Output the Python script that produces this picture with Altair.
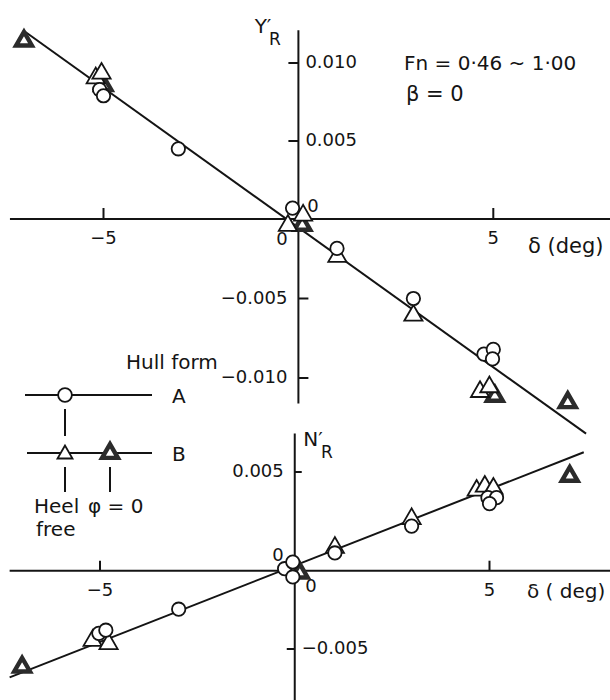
import altair as alt
import pandas as pd

# ---------------- data: rudder side force Y'_R (upper panel) ----------------
yr_circ_delta = [-5.1, -5.0, -3.08, -0.15, 0.99, 2.95, 4.76, 5.0, 4.98]
yr_circ_val = [0.0083, 0.0079, 0.0045, 0.0007, -0.00185, -0.0050, -0.0085, -0.0082, -0.0088]

yr_tri_delta = [-5.2, -5.05, -0.27, 0.12, 1.0, 2.95, 4.66, 4.9]
yr_tri_val = [0.0092, 0.0095, -0.00025, 0.0004, -0.0022, -0.0059, -0.0107, -0.0104]

yr_bold_delta = [-7.04, -5.0, 0.1, 5.04, 6.91]
yr_bold_val = [0.01156, 0.0087, -0.00025, -0.0110, -0.0114]

yr_fit_delta = [-7.065, 7.38]
yr_fit_val = [0.0121, -0.0135]

# ---------------- data: rudder yaw moment N'_R (lower panel) ----------------
nr_circ_delta = [-5.03, -4.85, -2.98, -0.26, -0.05, -0.05, 1.03, 3.0, 4.96, 5.18, 5.0]
nr_circ_val = [-0.0040, -0.0038, -0.00246, 0.0001, 0.00044, -0.0004, 0.0009, 0.00226, 0.0037, 0.0037, 0.0034]

nr_tri_delta = [-5.19, -4.78, 1.03, 3.0, 4.67, 4.88, 5.1]
nr_tri_val = [-0.0043, -0.0045, 0.0013, 0.00276, 0.0042, 0.0044, 0.0043]

nr_bold_delta = [-7.0, 0.13, 7.06]
nr_bold_val = [-0.0060, 0.0, 0.0049]

nr_fit_delta = [-7.32, 7.42]
nr_fit_val = [-0.00681, 0.0060]

# axis ticks and labels
x_ticks = [-5, 5]
x_tick_labels = ["−5", "5"]
yr_ticks = [0.010, 0.005, -0.005, -0.010]
yr_tick_labels = ["0.010", "0.005", "−0.005", "−0.010"]
nr_ticks = [0.005, -0.005]
nr_tick_labels = ["0.005", "−0.005"]

INK = "#141414"
BOLD = "#2b2b2b"
FONT = "DejaVu Sans"

# scales (the lower panel's vertical axis is drawn unevenly above/below zero)
xs_up = alt.Scale(domain=[-5, 5], range=[103.5, 493.3], nice=False, zero=False)
ys_up = alt.Scale(domain=[-0.010, 0, 0.010], range=[378, 219, 63], nice=False, zero=False)
xs_lo = alt.Scale(domain=[-5, 5], range=[100, 489.5], nice=False, zero=False)
ys_lo = alt.Scale(domain=[-0.005, 0, 0.005], range=[649, 570.7, 472], nice=False, zero=False)


def df(d, v, **extra):
    out = pd.DataFrame({"d": d, "v": v})
    for k, val in extra.items():
        out[k] = val
    return out


def X(s):
    return alt.X("d:Q", scale=s, axis=None)


def Y(s):
    return alt.Y("v:Q", scale=s, axis=None)


def panel(xs, ys, x_ext, y_ext, fit_d, fit_v, circ, tri, bold,
          x_tick_up, y_ticks, y_labels, y_tick_dir, y_label_side):
    base_axes = [
        # horizontal axis line
        alt.Chart(pd.DataFrame({"d": [x_ext[0]], "d2": [x_ext[1]], "v": [0.0]}))
        .mark_rule(color=INK, strokeWidth=2)
        .encode(x=X(xs), x2="d2:Q", y=Y(ys)),
        # vertical axis line
        alt.Chart(pd.DataFrame({"d": [0.0], "v": [y_ext[0]], "v2": [y_ext[1]]}))
        .mark_rule(color=INK, strokeWidth=2)
        .encode(x=X(xs), y=Y(ys), y2="v2:Q"),
        # ticks on the delta axis
        alt.Chart(df(x_ticks, [0.0] * len(x_ticks)))
        .mark_rule(color=INK, strokeWidth=2, y2Offset=-x_tick_up)
        .encode(x=X(xs), y=Y(ys), y2="v:Q"),
    ]
    ytick_layers = []
    ylabel_layers = []
    for val, lab, direction, side in zip(y_ticks, y_labels, y_tick_dir, y_label_side):
        ytick_layers.append(
            alt.Chart(df([0.0], [val]))
            .mark_rule(color=INK, strokeWidth=2, x2Offset=10 * direction)
            .encode(x=X(xs), x2="d:Q", y=Y(ys))
        )
        ylabel_layers.append(
            alt.Chart(df([0.0], [val], lab=[lab]))
            .mark_text(font=FONT, fontSize=18, color=INK, baseline="middle",
                       align="left" if side > 0 else "right", dx=7 if side > 0 else -11)
            .encode(x=X(xs), y=Y(ys), text="lab:N")
        )
    fit = (alt.Chart(df(fit_d, fit_v))
           .mark_line(color=INK, strokeWidth=2)
           .encode(x=X(xs), y=Y(ys)))
    bold_pts = (alt.Chart(df(*bold))
                .mark_point(shape="triangle-up", size=250, filled=False, fill="white",
                            fillOpacity=1, stroke=BOLD, strokeWidth=4.4, opacity=1)
                .encode(x=X(xs), y=Y(ys)))
    tri_pts = (alt.Chart(df(*tri))
               .mark_point(shape="triangle-up", size=330, filled=False, fill="white",
                           fillOpacity=1, stroke=INK, strokeWidth=1.8, opacity=1)
               .encode(x=X(xs), y=Y(ys)))
    circ_pts = (alt.Chart(df(*circ))
                .mark_point(shape="circle", size=180, filled=False, fill="white",
                            fillOpacity=1, stroke=INK, strokeWidth=1.8, opacity=1)
                .encode(x=X(xs), y=Y(ys)))
    xlabels = (alt.Chart(df(x_ticks, [0.0] * len(x_ticks), lab=x_tick_labels))
               .mark_text(font=FONT, fontSize=18, color=INK, baseline="middle", dy=20)
               .encode(x=X(xs), y=Y(ys), text="lab:N"))
    return alt.layer(*base_axes, *ytick_layers, fit, bold_pts, tri_pts, circ_pts,
                     xlabels, *ylabel_layers)


upper = panel(xs_up, ys_up, [-7.4, 8.2], [0.0121, -0.0116],
              yr_fit_delta, yr_fit_val,
              (yr_circ_delta, yr_circ_val), (yr_tri_delta, yr_tri_val),
              (yr_bold_delta, yr_bold_val),
              11, yr_ticks, yr_tick_labels, [-1, -1, 1, 1], [1, 1, -1, -1])

lower = panel(xs_lo, ys_lo, [-7.32, 8.2], [0.00695, -0.0085],
              nr_fit_delta, nr_fit_val,
              (nr_circ_delta, nr_circ_val), (nr_tri_delta, nr_tri_val),
              (nr_bold_delta, nr_bold_val),
              10, nr_ticks, nr_tick_labels, [0.7, -0.8], [-1, 1])

# ---------------- annotations: axis names, conditions and the legend ----------------
one = pd.DataFrame({"k": [0]})


def txt(s, x, y, size=19, align="left"):
    return (alt.Chart(one)
            .mark_text(text=s, font=FONT, fontSize=size, color=INK, align=align, baseline="middle")
            .encode(x=alt.value(x), y=alt.value(y)))


def hline(x1, x2, y, w=2):
    return (alt.Chart(one).mark_rule(color=INK, strokeWidth=w)
            .encode(x=alt.value(x1), x2=alt.value(x2), y=alt.value(y)))


def vline(x, y1, y2, w=2):
    return (alt.Chart(one).mark_rule(color=INK, strokeWidth=w)
            .encode(x=alt.value(x), y=alt.value(y1), y2=alt.value(y2)))


def sym(shape, x, y, size, stroke, sw):
    return (alt.Chart(one)
            .mark_point(shape=shape, size=size, filled=False, fill="white", fillOpacity=1,
                        stroke=stroke, strokeWidth=sw, opacity=1)
            .encode(x=alt.value(x), y=alt.value(y)))


annot = alt.layer(
    # zero labels
    txt("0", 282, 240, 18, "center"),
    txt("0", 313, 207, 18, "center"),
    txt("0", 278, 556, 18, "center"),
    txt("0", 311, 587, 18, "center"),
    # axis names
    txt("Y′", 263, 27, 20, "center"),
    txt("R", 275, 40, 17, "center"),
    txt("N′", 313, 440, 20, "center"),
    txt("R", 327, 453, 17, "center"),
    txt("δ (deg)", 528, 247, 21),
    txt("δ ( deg)", 527, 592, 20),
    # test conditions
    txt("Fn = 0·46 ~ 1·00", 404, 64, 20),
    txt("β  =  0", 406, 95, 21),
    # legend
    txt("Hull form", 126, 363, 20),
    hline(25, 152, 395),
    vline(65, 409, 436),
    sym("circle", 65, 395, 190, INK, 1.8),
    txt("A", 172, 397, 20),
    hline(27, 152, 453),
    sym("triangle-up", 65, 452, 225, INK, 1.8),
    sym("triangle-up", 110, 451, 250, BOLD, 4.4),
    txt("B", 172, 455, 20),
    vline(65, 467, 492),
    vline(110, 467, 492),
    txt("Heel", 34, 507, 20),
    txt("free", 36, 530, 20),
    txt("φ = 0", 88, 507, 20),
)

chart = (
    alt.layer(upper, lower, annot)
    .resolve_scale(x="independent", y="independent")
    .properties(width=610, height=700, padding=0,
                autosize=alt.AutoSizeParams(type="none"), background="white")
    .configure_view(stroke=None)
)

chart.save("out.html", embed_options={"renderer": "svg", "actions": False})
